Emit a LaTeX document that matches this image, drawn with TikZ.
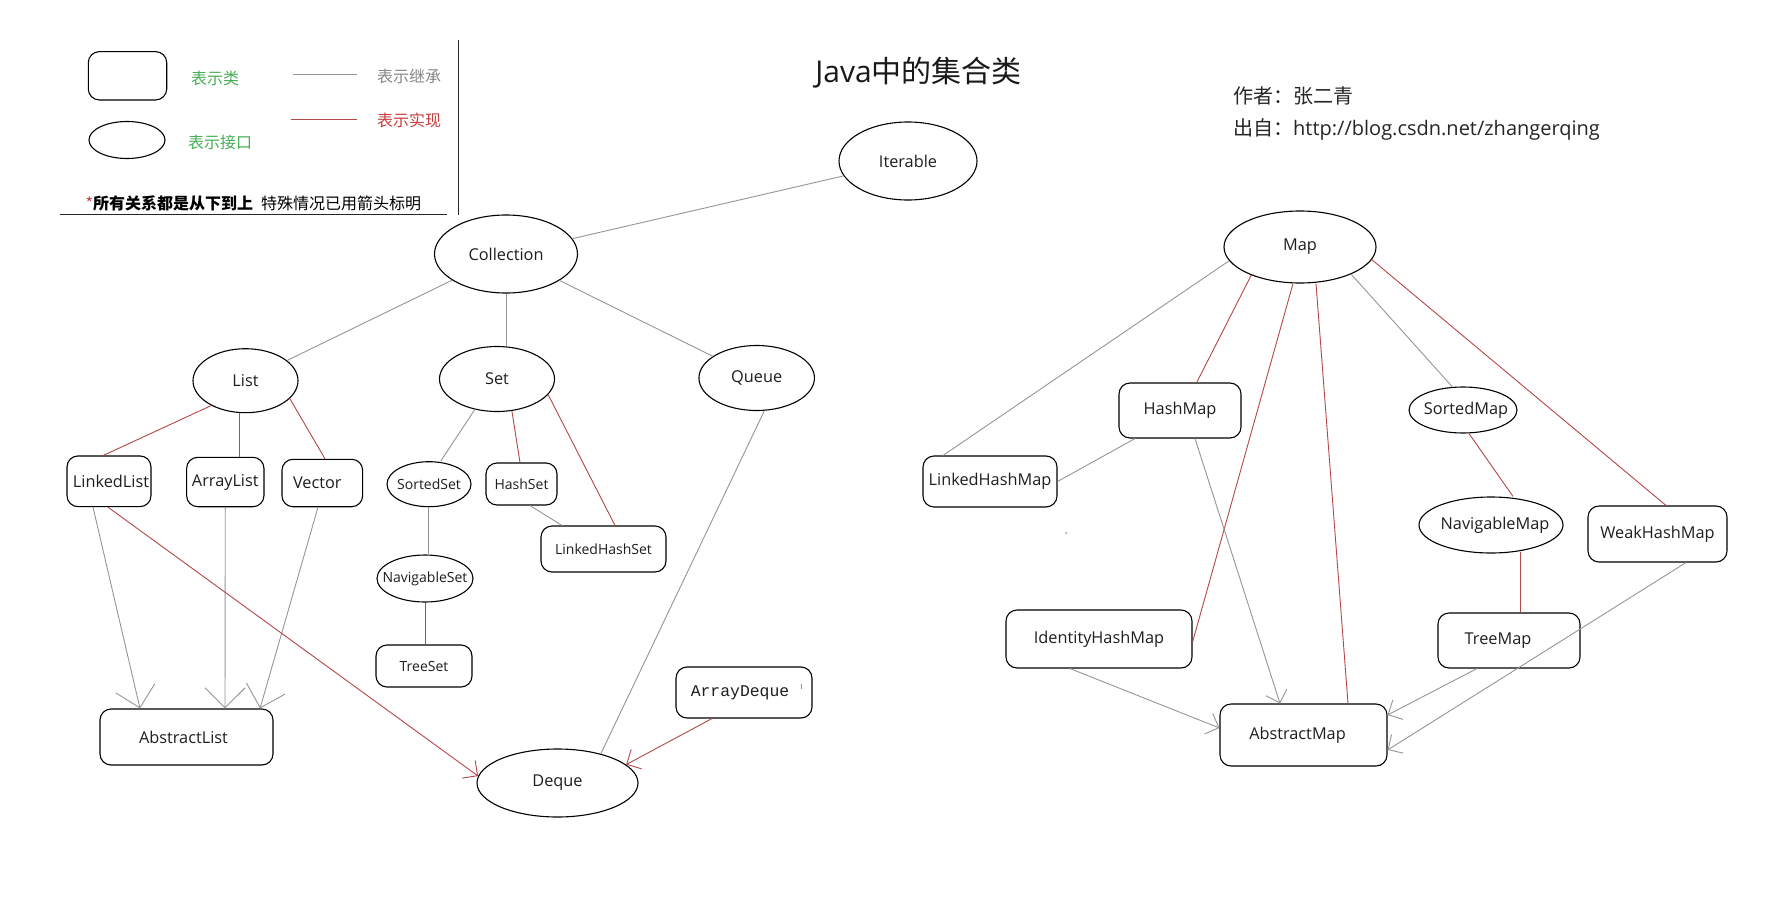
\documentclass[tikz,border=0pt]{standalone}
\usepackage{fontspec}
\setmainfont{Open Sans}
\newfontfamily\cjk{Noto Sans CJK SC}
\newfontfamily\monof{Liberation Mono}
\usetikzlibrary{shapes.geometric,arrows.meta,calc}
\definecolor{lgray}{RGB}{150,150,150}
\definecolor{lred}{RGB}{180,72,72}
\definecolor{tgreen}{RGB}{70,175,85}
\definecolor{tgray}{RGB}{135,135,135}
\definecolor{tred}{RGB}{200,60,60}
\definecolor{ink}{RGB}{30,30,30}
\tikzset{
 ifc/.style={draw=black, ellipse, line width=1.1pt, inner sep=0pt},
 cls/.style={draw=black, rectangle, rounded corners=11pt, line width=1.1pt, inner sep=0pt},
 lab/.style={font=\fontsize{16.3}{18}\selectfont, text=ink, inner sep=0pt},
 labs/.style={font=\fontsize{14}{16}\selectfont, text=ink, inner sep=0pt},
 labm/.style={font=\monof\fontsize{16.4}{18}\selectfont, text=ink, inner sep=0pt},
 cjkt/.style={font=\cjk\fontsize{16}{18}\selectfont, inner sep=0pt},
 gline/.style={draw=lgray, line width=0.9pt},
 rline/.style={draw=lred, line width=0.9pt},
 abig/.style={-{Straight Barb[length=20pt,width=40pt]}},
 asmall/.style={-{Straight Barb[length=11pt,width=22pt]}},
}
\newcommand\Inode[7]{\node[ifc, minimum width=#4pt, minimum height=#5pt, label={[#7]center:#6}] (#1) at (#2,#3) {};}
\newcommand\Cnode[7]{\node[cls, minimum width=#4pt, minimum height=#5pt, label={[#7]center:#6}] (#1) at (#2,#3) {};}
\begin{document}
\begin{tikzpicture}[x=1pt,y=-1pt]
\fill[white] (0,0) rectangle (1790,899);
\useasboundingbox (0,0) rectangle (1790,899);

% ---------- legend ----------
\node[cls, minimum width=78.4pt, minimum height=48.3pt] (legC) at (127.5,75.8) {};
\node[ifc, minimum width=76pt, minimum height=37pt] (legI) at (127,140) {};
\node[cjkt, text=tgreen] (legCt) at (215,78.3) {表示类};
\node[cjkt, text=tgreen] (legIt) at (220,142.7) {表示接口};
\coordinate (lg1) at (293.3,74.3); \coordinate (lg2) at (356.7,74.3);
\coordinate (lr1) at (290.7,119.3); \coordinate (lr2) at (356.7,119.3);
\draw[gline] (lg1) -- (lg2);
\draw[rline, line width=1.1pt] (lr1) -- (lr2);
\node[cjkt, text=tgray] (legGt) at (409,76.7) {表示继承};
\node[cjkt, text=tred] (legRt) at (409,120.7) {表示实现};
\node[cjkt, text=black] (legNote) at (253.3,203.3) {\textcolor{tred}{*}{\bfseries 所有关系都是从下到上}\hspace{0.5em}特殊情况已用箭头标明};
\coordinate (v1) at (458.3,40); \coordinate (v2) at (458.3,215);
\coordinate (h1) at (60,214.3); \coordinate (h2) at (446.7,214.3);
\draw[line width=1.3pt, black!85] (v1) -- (v2);
\draw[line width=1.3pt, black!85] (h1) -- (h2);

% ---------- title and author ----------
\node[inner sep=0pt, text=black!90, font=\fontsize{30}{34}\selectfont] (title) at (918.6,73) {Java{\cjk 中的集合类}};
\node[anchor=west, inner sep=0pt, text=black!85, font=\cjk\fontsize{20}{24}\selectfont] (author) at (1233,96) {作者：张二青};
\node[anchor=west, inner sep=0pt, text=black!85, font=\fontsize{20}{24}\selectfont] (source) at (1233,129.3) {{\cjk 出自：}http://blog.csdn.net/zhangerqing};

% ---------- collection side ----------
\Inode{Iterable}{908}{161}{138}{78}{Iterable}{lab}
\Inode{Collection}{506}{254}{143}{78}{Collection}{lab}
\Inode{List}{245.5}{380.7}{105}{64}{List}{lab}
\Inode{Set}{497}{379}{115}{65}{Set}{lab}
\Inode{Queue}{756.7}{378}{115.5}{65}{Queue}{lab}
\Cnode{LinkedList}{109}{481.3}{84}{50.7}{LinkedList}{lab,xshift=2pt}
\Cnode{ArrayList}{225.3}{482}{77.3}{49.4}{ArrayList}{lab}
\Cnode{Vector}{322.3}{483}{80.7}{47.4}{Vector}{lab,xshift=-5pt}
\Inode{SortedSet}{429}{484.2}{84}{45}{SortedSet}{labs}
\Cnode{HashSet}{521.5}{484}{71}{42}{HashSet}{labs}
\Cnode{LinkedHashSet}{603.5}{549}{125}{46}{LinkedHashSet}{labs}
\Inode{NavigableSet}{425}{578.5}{96}{47}{NavigableSet}{labs}
\Cnode{TreeSet}{424}{666}{96}{42}{TreeSet}{labs}
\Cnode{AbstractList}{186.5}{737}{173}{56}{AbstractList}{lab,xshift=-3pt}
\Cnode{ArrayDeque}{744}{692.5}{136}{51}{ArrayDeque}{labm,xshift=-4pt}
\Inode{Deque}{557.5}{783}{161}{68}{Deque}{lab}
\coordinate (tick1) at (801.5,684); \coordinate (tick2) at (801.5,689);
\draw[lgray, line width=0.8pt] (tick1) -- (tick2);

\draw[gline] (Collection) -- (Iterable);
\draw[gline] (Collection) -- (List);
\draw[gline] (Collection.south) -- ($(Set.north)+(9,0)$);
\draw[gline] (Collection) -- (Queue);
\draw[rline] (List.216) -- ($(LinkedList.north)+(-5.7,0)$);
\draw[rline] ($(List.south)+(-6.5,0)$) -- ($(ArrayList.north)+(13.7,0)$);
\draw[rline] (List.338) -- ($(Vector.north)+(2.7,0)$);
\draw[gline] (Set.234) -- ($(SortedSet.north)+(11.7,0)$);
\draw[rline] (Set.295) -- ($(HashSet.north)+(-1.5,0)$);
\draw[rline] (Set.343) -- ($(LinkedHashSet.north)+(11.5,0)$);
\draw[gline] ($(HashSet.south)+(8.5,0)$) -- ($(LinkedHashSet.north)+(-41.5,0)$);
\draw[gline] ($(SortedSet.south)+(-1,0)$) -- ($(NavigableSet.north)+(3,0)$);
\draw[rline] (NavigableSet.south) -- ($(TreeSet.north)+(1,0)$);
\draw[gline,abig] ($(LinkedList.south)+(-16,0)$) -- ($(AbstractList.north)+(-46.5,0)$);
\draw[gline,abig] (ArrayList.south) -- ($(AbstractList.north)+(38.5,0)$);
\draw[gline,abig] ($(Vector.south)+(-4.3,0)$) -- ($(AbstractList.north)+(73.5,0)$);
\draw[rline,asmall] ($(LinkedList.south)+(-1,0)$) -- (Deque.175);
\draw[gline] ($(Queue.south)+(7.5,0)$) -- (Deque.34);
\draw[rline,asmall] ($(ArrayDeque.south)+(-32,0)$) -- (Deque.15);

% ---------- map side ----------
\Inode{Map}{1300}{247}{152}{72}{Map}{lab}
\Cnode{HashMap}{1180}{410.5}{122}{55}{HashMap}{lab}
\Cnode{LinkedHashMap}{990}{481.5}{134}{51}{LinkedHashMap}{lab}
\Inode{SortedMap}{1463}{410}{108}{46}{SortedMap}{lab,xshift=3pt}
\Inode{NavigableMap}{1491}{525}{144}{56}{NavigableMap}{lab,xshift=4pt}
\Cnode{WeakHashMap}{1657.5}{534}{139}{56}{WeakHashMap}{lab}
\Cnode{IdentityHashMap}{1099}{639}{186}{58}{IdentityHashMap}{lab}
\Cnode{TreeMap}{1509}{640.5}{142}{55}{TreeMap}{lab,xshift=-11pt}
\Cnode{AbstractMap}{1303.5}{735}{167}{62}{AbstractMap}{lab,xshift=-6pt}
\fill[lgray] (1066,533) circle (1pt);

\draw[gline] (Map.191) -- ($(LinkedHashMap.north)+(-47,0)$);
\draw[rline] (Map.210) -- ($(HashMap.north)+(16.7,0)$);
\draw[rline] ($(Map.south)+(-7,0)$) -- ($(IdentityHashMap.east)+(0,3)$);
\draw[rline] ($(Map.south)+(16,0)$) -- ($(AbstractMap.north)+(44.5,0)$);
\draw[gline] (Map.332) -- ($(SortedMap.north)+(-11,0)$);
\draw[rline] (Map.350) -- ($(WeakHashMap.north)+(8.5,0)$);
\draw[rline] ($(SortedMap.south)+(6,0)$) -- ($(NavigableMap.north)+(22,0)$);
\draw[rline] ($(NavigableMap.south)+(29,-2)$) -- ($(TreeMap.north)+(11,0)$);
\draw[gline,asmall] ($(TreeMap.south)+(-32,0)$) -- ($(AbstractMap.east)+(0,-20)$);
\draw[gline,asmall] ($(WeakHashMap.south)+(28.5,0)$) -- ($(AbstractMap.east)+(0,15)$);
\draw[gline,asmall] ($(HashMap.south)+(15,0)$) -- ($(AbstractMap.north)+(-23.5,0)$);
\draw[gline] ($(HashMap.south)+(-45,0)$) -- (LinkedHashMap.east);
\draw[gline,asmall] ($(IdentityHashMap.south)+(-29,0)$) -- ($(AbstractMap.west)+(0,-7)$);
\end{tikzpicture}
\end{document}
